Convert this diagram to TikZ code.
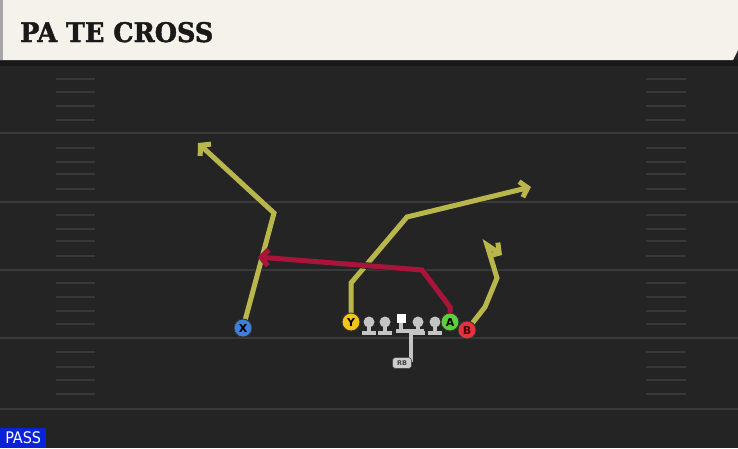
\documentclass[tikz,border=0pt]{standalone}
\usepackage{fontspec}
\setmainfont{DejaVu Sans}
\newfontfamily\titlefont[FakeBold=1.5]{DejaVu Serif Condensed Bold}
\newfontfamily\tagfont{DejaVu Sans Condensed}
\usetikzlibrary{arrows.meta,positioning}

\definecolor{field}{HTML}{242424}
\definecolor{yardline}{HTML}{3A3A3A}
\definecolor{hashline}{HTML}{383838}
\definecolor{banner}{HTML}{F5F2EB}
\definecolor{routeyel}{HTML}{B9B64C}
\definecolor{routered}{HTML}{A8143A}
\definecolor{xblue}{HTML}{3E7FD8}
\definecolor{yyellow}{HTML}{F3C51C}
\definecolor{agreen}{HTML}{5CCF3A}
\definecolor{bred}{HTML}{E6323F}
\definecolor{olgray}{HTML}{C4C4C4}
\definecolor{passblue}{HTML}{0B22D6}

\tikzstyle{route} = [line width=5pt, draw=routeyel, line join=miter,
  -{Straight Barb[length=7pt,width=16pt,line width=5pt]},
  preaction={draw=black!85, line width=6.5pt, -{Straight Barb[length=7pt,width=16pt,line width=6.5pt]}}]
\tikzstyle{player} = [circle, minimum size=18pt, inner sep=0pt, draw=black!80,
  line width=0.9pt, font=\bfseries\fontsize{11}{11}\selectfont]
\tikzstyle{lineman} = [line width=4pt, draw=olgray]

\begin{document}
\begin{tikzpicture}[x=1pt,y=-1pt]
  \useasboundingbox (0,0) rectangle (738,448);
  \fill[field] (0,0) rectangle (738,448);
  % field lines
  \foreach \yl in {133,202,270,338,409} {
    \draw[yardline, line width=2pt] (0,\yl) -- (738,\yl);
  }
  \foreach \yh in {79,92,106,120,148,162,174,189,215,229,241,256,283,297,311,324,352,367,380,394} {
    \draw[hashline, line width=1.5pt] (56,\yh) -- (95,\yh);
    \draw[hashline, line width=1.5pt] (646,\yh) -- (686,\yh);
  }
  % banner
  \fill[black!90] (0,60) rectangle (738,66);
  \fill[banner] (0,0) -- (738,0) -- (738,50) -- (733,60) -- (0,60) -- cycle;
  \fill[black!35] (0,0) rectangle (3,60);
  \node (title) [anchor=base west, inner sep=0pt, xscale=1.05, text=black!90] at (20,42)
    {\titlefont\fontsize{27}{27}\selectfont PA TE CROSS};
  % play tag
  \node (tag) [fill=passblue, text=white, anchor=south west, minimum width=46pt,
    minimum height=20pt, inner sep=0pt] at (0,448)
    {\tagfont\fontsize{16}{16}\selectfont PASS};

  % route breaks
  \coordinate (x1) at (274,213);
  \coordinate (x2) at (198,143);
  \coordinate (y1) at (351,283);
  \coordinate (y2) at (407,217);
  \coordinate (y3) at (531,187);
  \coordinate (a1) at (450,307);
  \coordinate (a2) at (422,270);
  \coordinate (a3) at (258,257);
  \coordinate (b1) at (485,307);
  \coordinate (b2) at (497,278);
  \coordinate (b3) at (487,245);
  \coordinate (b4) at (502,255);

  % line
  \foreach \xo in {369,385,418,435} {
    \draw[lineman] (\xo-7,333) -- (\xo+7,333);
    \draw[lineman] (\xo,322) -- (\xo,333);
    \fill[olgray] (\xo,322) circle (5.5pt);
  }
  \draw[lineman] (401,318) -- (401,331) (396,331) -- (424,331) (411,331) -- (411,362);
  \node (rb) [fill=olgray!85, draw=black!70, line width=0.6pt, rounded corners=3pt,
    minimum width=19pt, minimum height=11pt, inner sep=0pt,
    font=\bfseries\fontsize{6.5}{6.5}\selectfont, text=black!75] at (402,363) {RB};
  \node (c) [fill=white, minimum width=9pt, minimum height=9pt, inner sep=0pt] at (401,318) {};

  % routes
  \draw[route] (243,328) -- (x1) -- (x2);
  \draw[route] (351,322) -- (y1) -- (y2) -- (y3);
  \draw[route] (467,330) -- (b1) -- (b2) -- (b3) -- (b4);
  \draw[route, draw=routered] (450,322) -- (a1) -- (a2) -- (a3);

  % skill players
  \node (X) [player, fill=xblue] at (243,328) {X};
  \node (Y) [player, fill=yyellow] at (351,322) {Y};
  \node (A) [player, fill=agreen] at (450,322) {A};
  \node (B) [player, fill=bred, text=black!70!red] at (467,330) {B};
\end{tikzpicture}
\end{document}
